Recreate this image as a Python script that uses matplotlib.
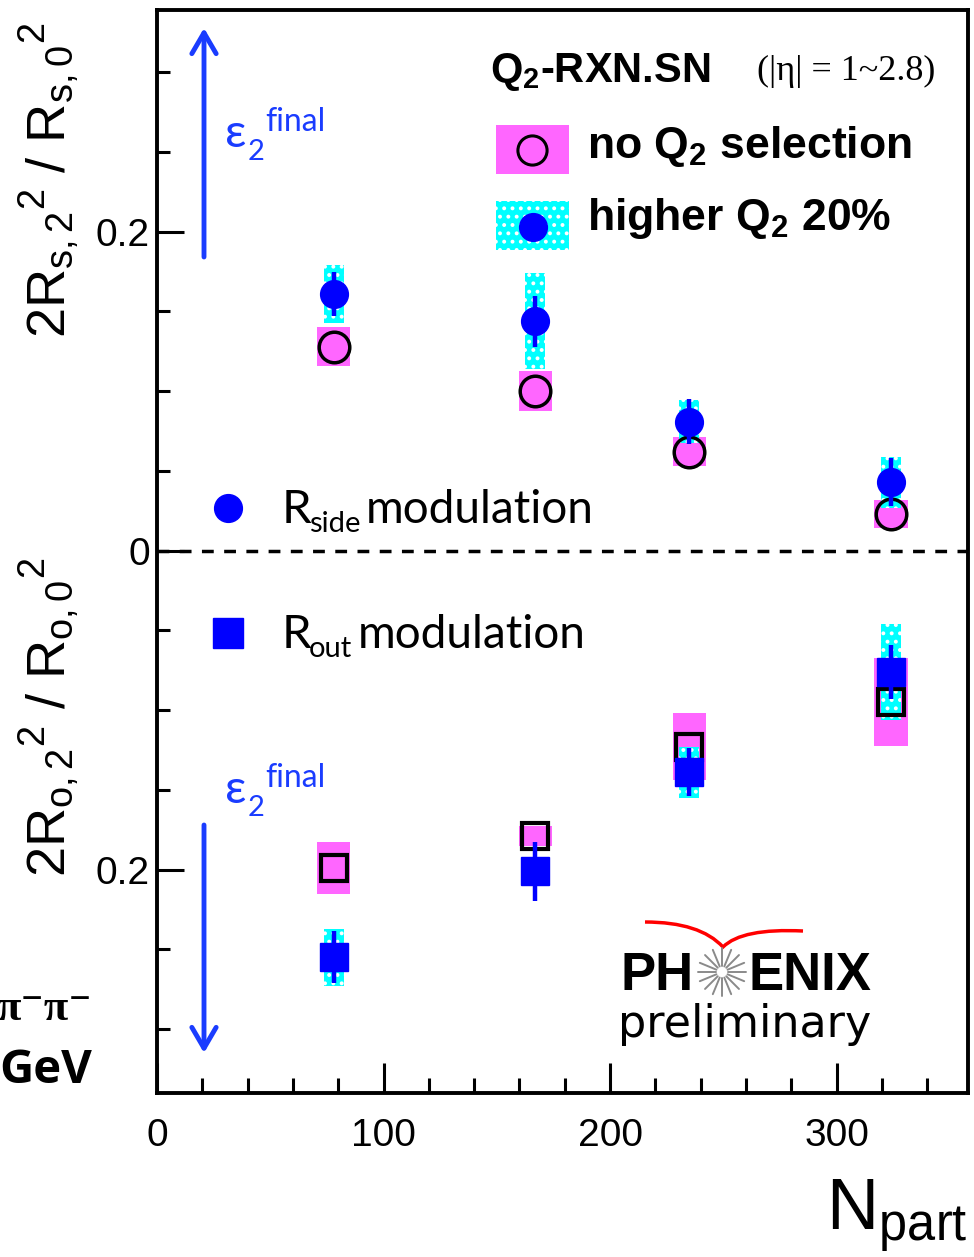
import numpy as np
import matplotlib
matplotlib.use('Agg')
import matplotlib.pyplot as plt
from matplotlib.patches import Rectangle, PathPatch
from matplotlib.path import Path
from matplotlib.ticker import MultipleLocator

plt.rcParams['font.family'] = 'Liberation Sans'
plt.rcParams['mathtext.fontset'] = 'custom'
plt.rcParams['mathtext.rm'] = 'Liberation Sans'
plt.rcParams['mathtext.it'] = 'Liberation Sans:italic'
plt.rcParams['mathtext.bf'] = 'Liberation Sans:bold'
plt.rcParams['hatch.linewidth'] = 1.6

npart = [78, 167, 235, 324]

# R_side modulation, no Q2 selection
side_all = [0.128, 0.100, 0.062, 0.023]
side_all_sys = [0.0125, 0.0125, 0.009, 0.009]
# R_side modulation, higher Q2 20%
side_hi = [0.161, 0.144, 0.081, 0.043]
side_hi_stat = [0.014, 0.016, 0.014, 0.015]
side_hi_sys = [0.018, 0.030, 0.0135, 0.016]
# R_out modulation, no Q2 selection
out_all = [-0.199, -0.179, -0.123, -0.095]
out_all_sys = [0.0165, 0.0063, 0.021, 0.0275]
# R_out modulation, higher Q2 20%
out_hi = [-0.255, -0.201, -0.139, -0.076]
out_hi_stat = [0.0163, 0.0185, 0.015, 0.017]
out_hi_sys = [0.0177, 0.008, 0.016, 0.030]

ytick_vals = [-0.2, 0, 0.2]
ytick_labels = ['0.2', '0', '0.2']

MAGENTA = '#ff66ff'
CYAN = '#00ffff'
BLUE = '#0000ff'
ARROW = '#1a3cff'

fig = plt.figure(figsize=(9.74, 12.57), dpi=100)
ax = fig.add_axes([157 / 974, 1 - 1093 / 1257, 811 / 974, 1083 / 1257])


def px(x, y):
    # pixel position -> axes fraction
    return (x - 157) / 811, (1093 - y) / 1083


def fpx(x, y):
    return x / 974, 1 - y / 1257


# systematic boxes
for vals, sys in [(side_all, side_all_sys), (out_all, out_all_sys)]:
    v, s = np.array(vals), np.array(sys)
    ax.bar(npart, 2 * s, bottom=v - s, width=14.6, color=MAGENTA,
           linewidth=0, zorder=1)
for vals, sys in [(side_hi, side_hi_sys), (out_hi, out_hi_sys)]:
    v, s = np.array(vals), np.array(sys)
    ax.bar(npart, 2 * s, bottom=v - s, width=8.8, color=CYAN,
           edgecolor='white', hatch='..', linewidth=0, zorder=2)

ax.axhline(0, color='black', lw=2.5, ls=(0, (3.4, 3.0)), zorder=1.5)

ax.plot(npart, side_all, 'o', ms=22, mfc='none', mec='black', mew=2.5, zorder=3)
ax.plot(npart, out_all, 's', ms=19, mfc='none', mec='black', mew=3, zorder=3)
ax.errorbar(npart, side_hi, yerr=side_hi_stat, fmt='o', ms=20, color=BLUE,
            elinewidth=3.2, capsize=0, zorder=4)
ax.errorbar(npart, out_hi, yerr=out_hi_stat, fmt='s', ms=20, color=BLUE,
            elinewidth=3.2, capsize=0, zorder=4)

ax.set_xlim(0, 358)
ax.set_ylim(-0.34, 0.339)
ax.set_xticks([0, 100, 200, 300])
ax.xaxis.set_minor_locator(MultipleLocator(20))
ax.set_yticks(ytick_vals)
ax.set_yticklabels(ytick_labels)
ax.yaxis.set_minor_locator(MultipleLocator(0.05))
ax.tick_params(which='both', direction='in', top=False, right=False,
               width=2.2, labelsize=28)
ax.tick_params(axis='y', which='major', length=19.5, pad=5)
ax.tick_params(axis='y', which='minor', length=9.5)
ax.tick_params(axis='x', which='major', length=21.5, pad=18)
ax.tick_params(axis='x', which='minor', length=11)
for sp in ax.spines.values():
    sp.set_linewidth(2.8)

# axis labels
fig.text(*fpx(50, 180), r'$\mathrm{2R_{s,2}{}^{2}\ /\ R_{s,0}{}^{2}}$',
         rotation=90, ha='center', va='center', fontsize=39)
fig.text(*fpx(50, 717), r'$\mathrm{2R_{o,2}{}^{2}\ /\ R_{o,0}{}^{2}}$',
         rotation=90, ha='center', va='center', fontsize=39)
fig.text(*fpx(968, 1230), r'$\mathrm{N_{part}}$', ha='right', va='baseline',
         fontsize=52)

# cropped annotations at the left edge
fig.text(*fpx(92, 1020), 'π⁻π⁻', ha='right', va='baseline', fontsize=32,
         fontweight='bold', family=['Liberation Serif', 'DejaVu Serif'])
fig.text(*fpx(92, 1083), 'GeV', ha='right', va='baseline', fontsize=34,
         fontweight='bold', family=['Open Sans', 'DejaVu Sans'])

# legend (top right)
ax.text(*px(490, 82), r'$\mathbf{Q}_{\mathbf{2}}$-RXN.SN', transform=ax.transAxes,
        fontsize=30, fontweight='bold', va='baseline')
ax.text(*px(757, 80), '(|η| = 1~2.8)', transform=ax.transAxes, fontsize=26,
        va='baseline', family=['Liberation Serif', 'DejaVu Serif'])
x0, y0 = px(496, 174)
ax.add_patch(Rectangle((x0, y0), 73 / 811, 49 / 1083, color=MAGENTA,
                       transform=ax.transAxes, lw=0, zorder=2))
ax.plot(*px(532, 150), 'o', ms=21, mfc='none', mec='black', mew=2.2,
        transform=ax.transAxes, zorder=3)
x0, y0 = px(496, 250)
ax.add_patch(Rectangle((x0, y0), 73 / 811, 49 / 1083, facecolor=CYAN,
                       edgecolor='white', hatch='..', lw=0,
                       transform=ax.transAxes, zorder=2))
ax.plot(*px(533, 227), 'o', ms=20, color=BLUE, transform=ax.transAxes, zorder=3)
ax.text(*px(587, 158), r'no $\mathbf{Q}_{\mathbf{2}}$ selection',
        transform=ax.transAxes, fontsize=32, fontweight='bold', va='baseline')
ax.text(*px(587, 230), r'higher $\mathbf{Q}_{\mathbf{2}}$ 20%',
        transform=ax.transAxes, fontsize=32, fontweight='bold', va='baseline')

# R_side / R_out labels
calib = ['Lato', 'Open Sans', 'DejaVu Sans']
ax.plot(*px(228, 508), 'o', ms=20, color=BLUE, transform=ax.transAxes)
ax.text(*px(282, 523), 'R', transform=ax.transAxes, fontsize=34,
        va='baseline', family=calib)
ax.text(*px(309, 532), 'side', transform=ax.transAxes, fontsize=21,
        va='baseline', family=calib)
ax.text(*px(366, 523), 'modulation', transform=ax.transAxes, fontsize=33,
        va='baseline', family=calib)
ax.plot(*px(228, 633), 's', ms=21, color=BLUE, transform=ax.transAxes)
ax.text(*px(282, 648), 'R', transform=ax.transAxes, fontsize=34,
        va='baseline', family=calib)
ax.text(*px(309, 657), 'out', transform=ax.transAxes, fontsize=21,
        va='baseline', family=calib)
ax.text(*px(358, 648), 'modulation', transform=ax.transAxes, fontsize=33,
        va='baseline', family=calib)

# epsilon_2 final arrows
for dy in (0, 656):
    ax.text(*px(225, 147 + dy), 'ε', transform=ax.transAxes, fontsize=34,
            va='baseline', color=ARROW, family=calib)
    ax.text(*px(248, 160 + dy), '2', transform=ax.transAxes, fontsize=21,
            va='baseline', color=ARROW, family=calib)
    ax.text(*px(265, 131 + dy), 'final', transform=ax.transAxes, fontsize=23,
            va='baseline', color=ARROW, family=calib)
for start, end in [((204, 257), (204, 28)), ((204, 825), (204, 1053))]:
    ax.annotate('', xy=px(*end), xytext=px(*start), xycoords='axes fraction',
                textcoords='axes fraction',
                arrowprops=dict(arrowstyle='->,head_length=0.6,head_width=0.35',
                                lw=3.5, color=ARROW, mutation_scale=25,
                                shrinkA=0, shrinkB=0))

# PHENIX preliminary logo
ax.text(*px(620, 990), 'PH', transform=ax.transAxes, fontsize=38,
        fontweight='bold', va='baseline')
ax.text(*px(748, 990), 'ENIX', transform=ax.transAxes, fontsize=38,
        fontweight='bold', va='baseline')
cx, cy = 722, 972
for a in np.linspace(0, 2 * np.pi, 16, endpoint=False):
    p1 = px(cx + 6 * np.cos(a), cy + 6 * np.sin(a))
    p2 = px(cx + 24 * np.cos(a), cy + 24 * np.sin(a))
    ax.plot([p1[0], p2[0]], [p1[1], p2[1]], color='#8a8a8a', lw=1.4,
            transform=ax.transAxes, solid_capstyle='round')
verts = [px(645, 922), px(700, 922), px(723, 947), px(742, 928), px(803, 931)]
codes = [Path.MOVETO, Path.CURVE3, Path.CURVE3, Path.CURVE3, Path.CURVE3]
ax.add_patch(PathPatch(Path(verts, codes), facecolor='none', edgecolor='red',
                       lw=2.5, transform=ax.transAxes))
ax.text(*px(618, 1037), 'preliminary', transform=ax.transAxes, fontsize=32,
        va='baseline', family='DejaVu Sans')

fig.savefig('out.png', dpi=100, facecolor='white')
